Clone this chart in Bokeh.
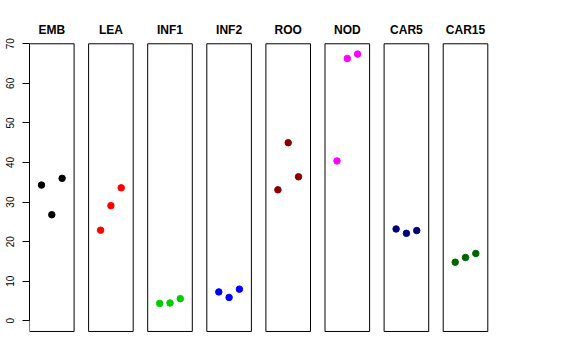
from bokeh.plotting import figure
from bokeh.models import Range1d, FixedTicker, ColumnDataSource
from bokeh.embed import file_html
from bokeh.resources import INLINE
from bokeh.core.properties import value

groups = ["EMB", "LEA", "INF1", "INF2", "ROO", "NOD", "CAR5", "CAR15"]
colors = ["black", "red", "#00CD00", "blue", "#8B0000", "magenta", "#000080", "#006400"]
replicates = [1, 2, 3]
emb = [34.3, 26.8, 36.0]
lea = [22.9, 29.1, 33.6]
inf1 = [4.4, 4.5, 5.6]
inf2 = [7.3, 5.9, 8.0]
roo = [33.1, 45.0, 36.4]
nod = [40.4, 66.3, 67.4]
car5 = [23.2, 22.1, 22.8]
car15 = [14.8, 16.0, 17.0]
series = [emb, lea, inf1, inf2, roo, nod, car5, car15]
y_ticks = [0, 10, 20, 30, 40, 50, 60, 70]

GAP = 5.738      # panel spacing in x units
HALF = 2.165     # half width of a panel box
Y_BOTTOM = -2.7
Y_TOP = 70

xs, ys, cs = [], [], []
for i, (vals, c) in enumerate(zip(series, colors)):
    for r, v in zip(replicates, vals):
        xs.append(i * GAP + r)
        ys.append(v)
        cs.append(c)
pts = ColumnDataSource(dict(x=xs, y=ys, c=cs))

centers = [i * GAP + 2 for i in range(len(groups))]
boxes = ColumnDataSource(dict(
    left=[c - HALF for c in centers],
    right=[c + HALF for c in centers],
    bottom=[Y_BOTTOM] * len(groups),
    top=[Y_TOP] * len(groups),
))
titles = ColumnDataSource(dict(x=centers, y=[73.4] * len(groups), t=groups))

x0 = -HALF + 2
p = figure(width=560, height=344, output_backend="svg", toolbar_location=None,
           x_range=Range1d(x0, x0 + 471 / 10.3), y_range=Range1d(-3.715, 77.15),
           x_axis_location=None, min_border_left=29, min_border_right=60,
           min_border_top=15, min_border_bottom=9)
p.outline_line_color = None
p.xgrid.visible = False
p.ygrid.visible = False

p.quad(left="left", right="right", bottom="bottom", top="top", source=boxes,
       fill_color=None, line_color="black", line_width=1)
p.scatter(x="x", y="y", source=pts, size=6.5, fill_color="c", line_color="c")
p.text(x="x", y="y", text="t", source=titles, text_align="center",
       text_baseline="middle", text_font=value("Liberation Sans"),
       text_font_style="bold", text_font_size="12px", text_color="black")

ax = p.yaxis[0]
ax.bounds = (0, 70)
ax.ticker = FixedTicker(ticks=y_ticks)
ax.major_label_orientation = "vertical"
ax.major_tick_out = 7
ax.major_tick_in = 0
ax.minor_tick_out = 0
ax.minor_tick_in = 0
ax.axis_line_color = "black"
ax.major_tick_line_color = "black"
ax.major_label_text_font = "Liberation Sans"
ax.major_label_text_font_size = "10px"
ax.major_label_text_color = "black"
ax.major_label_standoff = 8

open("out.html", "w").write(file_html(p, INLINE))
